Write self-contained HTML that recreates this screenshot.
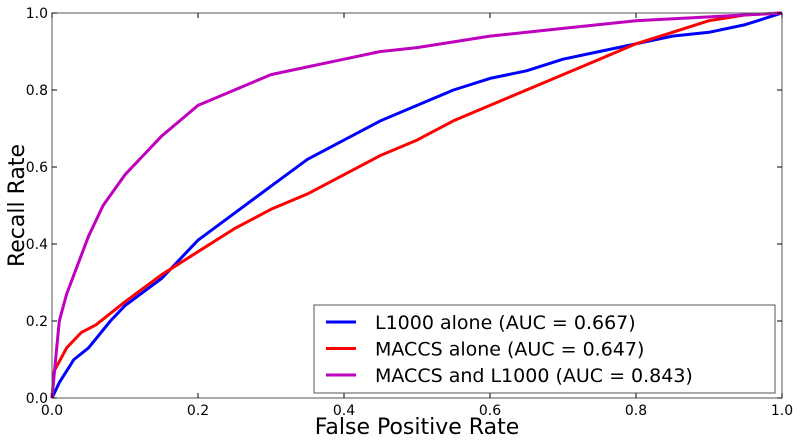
<!DOCTYPE html>
<html><head><meta charset="utf-8"><style>
body{margin:0;background:#fff;}
svg text{font-family:"DejaVu Sans","Liberation Sans",sans-serif;fill:#000;}
</style></head><body>
<svg id="chart" width="800" height="440" xmlns="http://www.w3.org/2000/svg"></svg>
<script>
const xTicks=[0,0.2,0.4,0.6,0.8,1.0];
const yTicks=[0,0.2,0.4,0.6,0.8,1.0];
const seriesNames=["L1000 alone (AUC = 0.667)","MACCS alone (AUC = 0.647)","MACCS and L1000 (AUC = 0.843)"];
const blueFpr=[0,0.01,0.03,0.05,0.08,0.1,0.15,0.2,0.25,0.3,0.35,0.4,0.45,0.5,0.55,0.6,0.65,0.7,0.75,0.8,0.85,0.9,0.95,1];
const blueTpr=[0,0.04,0.1,0.13,0.2,0.24,0.31,0.41,0.48,0.55,0.62,0.67,0.72,0.76,0.8,0.83,0.85,0.88,0.9,0.92,0.94,0.95,0.97,1];
const redFpr=[0,0.003,0.02,0.04,0.06,0.1,0.15,0.2,0.25,0.3,0.35,0.4,0.45,0.5,0.55,0.6,0.65,0.7,0.75,0.8,0.85,0.9,0.95,1];
const redTpr=[0,0.07,0.13,0.17,0.19,0.25,0.32,0.38,0.44,0.49,0.53,0.58,0.63,0.67,0.72,0.76,0.8,0.84,0.88,0.92,0.95,0.98,0.995,1];
const purpleFpr=[0,0.005,0.01,0.02,0.03,0.05,0.07,0.1,0.13,0.15,0.2,0.25,0.3,0.35,0.4,0.45,0.5,0.55,0.6,0.7,0.8,0.9,1];
const purpleTpr=[0,0.1,0.2,0.27,0.32,0.42,0.5,0.58,0.64,0.68,0.76,0.8,0.84,0.86,0.88,0.9,0.91,0.925,0.94,0.96,0.98,0.99,1];

const L=52,R=782,T=13,B=398;
const sx=v=>L+v*(R-L), sy=v=>B-v*(B-T);
const svg=document.getElementById('chart');
const NS='http://www.w3.org/2000/svg';
function mk(tag,attrs,parent){const e=document.createElementNS(NS,tag);for(const k in attrs)e.setAttribute(k,attrs[k]);(parent||svg).appendChild(e);return e;}

const series=[[blueFpr,blueTpr,'#0000ff','l1000-curve'],[redFpr,redTpr,'#ff0000','maccs-curve'],[purpleFpr,purpleTpr,'#bf00bf','combined-curve']];
series.forEach(s=>{
  const d=s[0].map((x,i)=>(i?'L':'M')+sx(x).toFixed(1)+','+sy(s[1][i]).toFixed(1)).join(' ');
  const p=mk('path',{d:d,fill:'none',stroke:s[2],'stroke-width':3,'stroke-linejoin':'round'});
  
  
});

const frame=mk('rect',{x:L,y:T,width:R-L,height:B-T,fill:'none',stroke:'#555','stroke-width':1});



xTicks.forEach(v=>{
  mk('line',{x1:sx(v),x2:sx(v),y1:B,y2:B-5,stroke:'#000'});
  mk('line',{x1:sx(v),x2:sx(v),y1:T,y2:T+5,stroke:'#000'});
  const t=mk('text',{x:sx(v),y:B+17,'text-anchor':'middle','font-size':14});
  t.textContent=v.toFixed(1);
  
  
});
yTicks.forEach(v=>{
  mk('line',{x1:L,x2:L+5,y1:sy(v),y2:sy(v),stroke:'#000'});
  mk('line',{x1:R,x2:R-5,y1:sy(v),y2:sy(v),stroke:'#000'});
  const t=mk('text',{x:L-4,y:sy(v)+5,'text-anchor':'end','font-size':14});
  t.textContent=v.toFixed(1);
  
  
});

const xt=mk('text',{x:(L+R)/2,y:434,'text-anchor':'middle','font-size':22});
xt.textContent='False Positive Rate';


const yt=mk('text',{x:0,y:0,'text-anchor':'middle','font-size':22,transform:'translate(24,'+((T+B)/2)+') rotate(-90)'});
yt.textContent='Recall Rate';



const lg=mk('g',{});


mk('rect',{x:314,y:305,width:461,height:88,fill:'#fff',stroke:'#555','stroke-width':1},lg);
seriesNames.forEach((n,i)=>{
  const y=322+i*26.5;
  const g=mk('g',{},lg);
  
  
  mk('line',{x1:326,x2:356,y1:y,y2:y,stroke:series[i][2],'stroke-width':3},g);
  const t=mk('text',{x:375,y:y+7,'font-size':19},g);
  t.textContent=n;
});
</script>
</body></html>
